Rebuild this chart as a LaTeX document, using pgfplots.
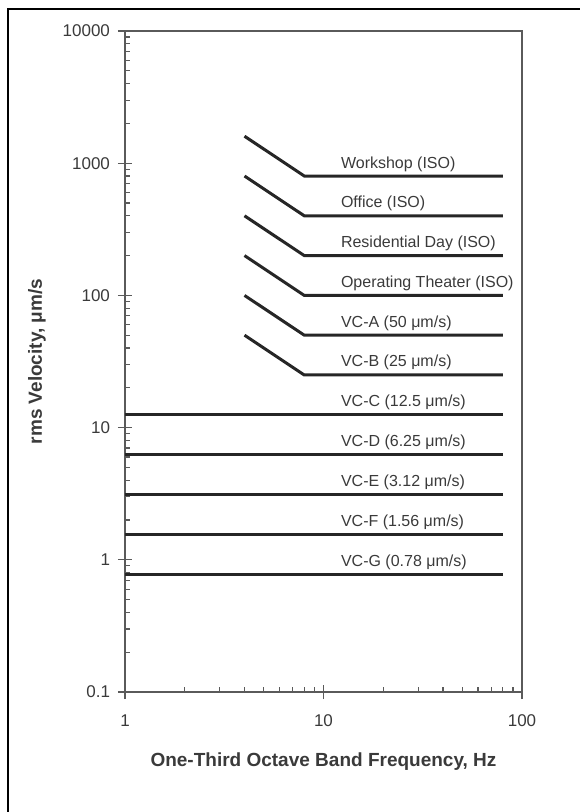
\documentclass[border=0pt]{standalone}
\usepackage{pgfplots}
\pgfplotsset{compat=1.18}
\usepackage{fontspec}
\setmainfont{Liberation Sans}
\definecolor{axgray}{HTML}{5A5A5A}
\definecolor{txtgray}{HTML}{3A3A3A}
\definecolor{linec}{HTML}{262626}
\tikzset{crit/.style={draw=linec, solid, line width=1.5bp, mark=none}}
\begin{document}
\begin{tikzpicture}
\useasboundingbox (-62.5bp,-60bp) rectangle (227.5bp,346bp);
\draw[line width=1.1bp, black] (-58.5bp,-80bp) -- (-58.5bp,341.5bp) -- (250bp,341.5bp);
\begin{axis}[
  at={(0,0)}, anchor=south west,
  scale only axis, width=198.5bp, height=330.5bp,
  xmode=log, ymode=log,
  xmin=1, xmax=100, ymin=0.1, ymax=10000,
  xtick={1,10,100}, xticklabels={1,10,100},
  ytick={0.1,1,10,100,1000,10000}, yticklabels={0.1,1,10,100,1000,10000},
  tick pos=left,
  tick align=inside,
  major tick length=7bp,
  minor tick length=2.5bp,
  every major x tick/.append style={yshift=-3.5bp},
  every major y tick/.append style={xshift=-3.5bp},
  axis line style={axgray, line width=0.9bp},
  every tick/.style={axgray, line width=0.6bp},
  tick label style={font=\fontsize{8.5bp}{10bp}\selectfont, text=txtgray},
  yticklabel style={xshift=-4bp},
  xticklabel style={yshift=-8bp},
  xlabel={One-Third Octave Band Frequency, Hz},
  ylabel={rms Velocity, μm/s},
  label style={font=\fontsize{9.5bp}{11bp}\selectfont\bfseries, text=txtgray},
  x label style={at={(axis description cs:0.5,0)}, anchor=center, yshift=-35bp},
  y label style={at={(axis description cs:0,0.5)}, anchor=center, yshift=44bp},
  clip=false,
]
\addplot[crit] coordinates {(4,1600) (8,800) (80,800)};
\addplot[crit] coordinates {(4,800) (8,400) (80,400)};
\addplot[crit] coordinates {(4,400) (8,200) (80,200)};
\addplot[crit] coordinates {(4,200) (8,100) (80,100)};
\addplot[crit] coordinates {(4,100) (8,50) (80,50)};
\addplot[crit] coordinates {(4,50) (8,25) (80,25)};
\addplot[crit] coordinates {(1,12.5) (80,12.5)};
\addplot[crit] coordinates {(1,6.25) (80,6.25)};
\addplot[crit] coordinates {(1,3.12) (80,3.12)};
\addplot[crit] coordinates {(1,1.56) (80,1.56)};
\addplot[crit] coordinates {(1,0.78) (80,0.78)};
\begin{scope}[every node/.style={anchor=base west, font=\fontsize{8bp}{10bp}\selectfont, text=txtgray, inner sep=0pt, yshift=4bp}]
\node at (axis cs:12.2,800) {Workshop (ISO)};
\node at (axis cs:12.2,400) {Office (ISO)};
\node at (axis cs:12.2,200) {Residential Day (ISO)};
\node at (axis cs:12.2,100) {Operating Theater (ISO)};
\node at (axis cs:12.2,50) {VC-A (50 μm/s)};
\node at (axis cs:12.2,25) {VC-B (25 μm/s)};
\node at (axis cs:12.2,12.5) {VC-C (12.5 μm/s)};
\node at (axis cs:12.2,6.25) {VC-D (6.25 μm/s)};
\node at (axis cs:12.2,3.12) {VC-E (3.12 μm/s)};
\node at (axis cs:12.2,1.56) {VC-F (1.56 μm/s)};
\node at (axis cs:12.2,0.78) {VC-G (0.78 μm/s)};
\end{scope}
\end{axis}
\end{tikzpicture}
\end{document}
